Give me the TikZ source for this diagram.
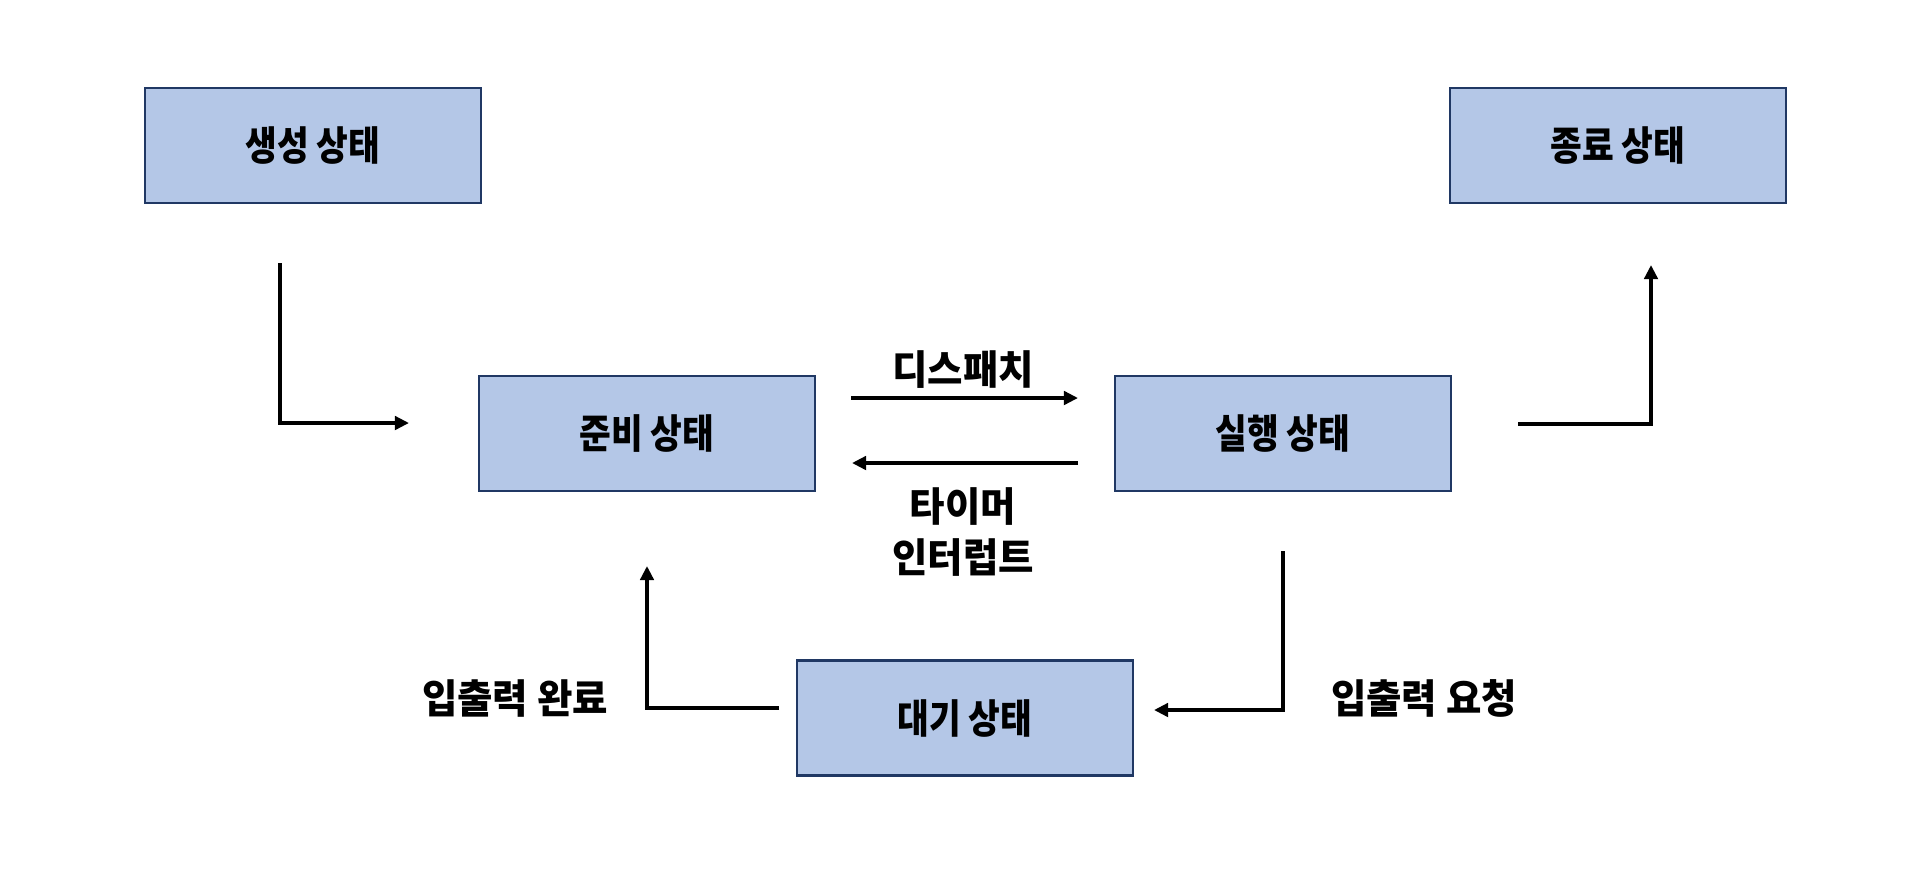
\documentclass[tikz,border=0pt]{standalone}
\usepackage{fontspec}
\newfontfamily\kr[FakeStretch=0.96]{Noto Sans CJK KR}
\newfontfamily\krbox[FakeStretch=0.86]{Noto Sans CJK KR}
\usetikzlibrary{arrows.meta}

\definecolor{boxfill}{HTML}{B4C7E7}
\definecolor{boxline}{HTML}{203864}

\tikzset{
  statebox/.style={draw=boxline, fill=boxfill, line width=0.6pt,
    minimum width=3.36cm, minimum height=1.15cm, inner sep=0pt,
    font=\krbox\bfseries\fontsize{11.4pt}{13pt}\selectfont},
  lbl/.style={inner sep=0pt, font=\kr\bfseries\fontsize{11.4pt}{13pt}\selectfont},
  arr/.style={line width=1pt, -{Triangle[length=4pt,width=3.8pt]}}
}

\begin{document}
\begin{tikzpicture}[x=0.01cm, y=-0.01cm]
\useasboundingbox (0,0) rectangle (1917,887);
% states
\node[statebox] (new) at (313,145.5) {생성 상태};
\node[statebox] (exit) at (1618,145.5) {종료 상태};
\node[statebox] (ready) at (647,433.5) {준비 상태};
\node[statebox] (run) at (1283,433.5) {실행 상태};
\node[statebox] (wait) at (965,718) {대기 상태};
% labels
\node[lbl] (dispatch) at (963,370) {디스패치};
\node[lbl] (timer) at (963,506) {타이머};
\node[lbl] (intr) at (963,557) {인터럽트};
\node[lbl] (iodone) at (515,698) {입출력 완료};
\node[lbl] (ioreq) at (1424,698) {입출력 요청};
% free ends of the connectors
\coordinate (newout) at (280,263);
\coordinate (readyin) at (409,423);
\coordinate (dispout) at (851,398);
\coordinate (dispin) at (1078,398);
\coordinate (timerout) at (1078,463);
\coordinate (timerin) at (852,463);
\coordinate (runout) at (1518,424);
\coordinate (exitin) at (1651,265);
\coordinate (runio) at (1283,551);
\coordinate (waitin) at (1154,710);
\coordinate (waitout) at (779,708);
\coordinate (readyio) at (647,566);
% creation to ready
\draw[arr] (newout) |- (readyin);
% dispatch and timer interrupt
\draw[arr] (dispout) -- (dispin);
\draw[arr] (timerout) -- (timerin);
% running to exit
\draw[arr] (runout) -| (exitin);
% running to waiting, waiting to ready
\draw[arr] (runio) |- (waitin);
\draw[arr] (waitout) -| (readyio);
\end{tikzpicture}
\end{document}
